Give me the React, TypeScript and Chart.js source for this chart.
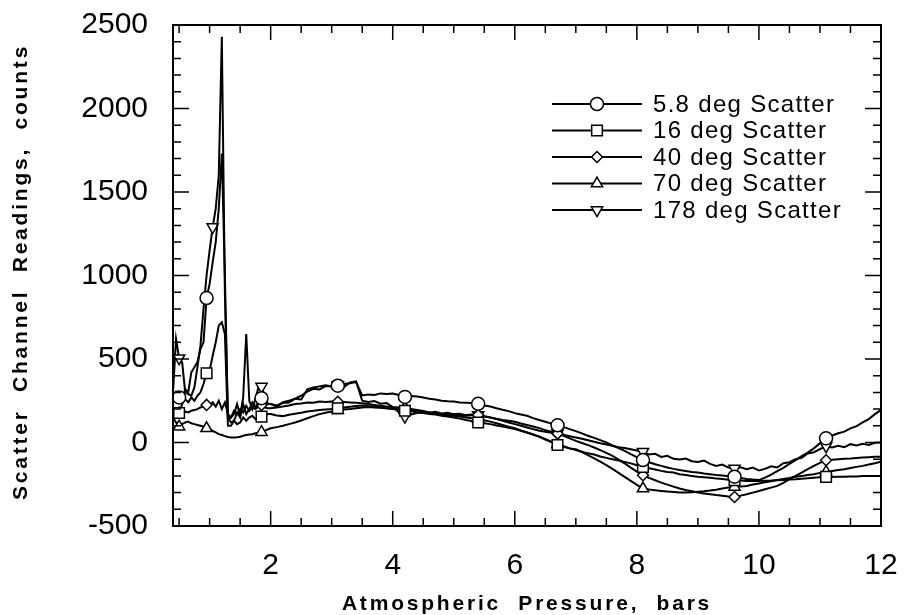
import { useEffect, useRef } from 'react';
import { Chart, registerables } from 'chart.js';

Chart.register(...registerables);

const FONT = '"Liberation Sans", Arial, Helvetica, sans-serif';

// Pressure samples (bars)
const pressureLow = [0.40, 0.45, 0.50, 0.55, 0.60, 0.65, 0.70, 0.75, 0.80, 0.85, 0.90, 0.95, 1.00, 1.05, 1.10, 1.15, 1.20, 1.25, 1.30, 1.35, 1.40, 1.45, 1.50, 1.55, 1.60, 1.65, 1.70, 1.75, 1.80, 1.85, 1.90, 1.95];
const pressureHigh = [
  2.0, 2.1, 2.2, 2.3, 2.4, 2.5, 2.6, 2.7, 2.8, 2.9,
  3.0, 3.1, 3.2, 3.3, 3.4, 3.5, 3.6, 3.7, 3.8, 3.9,
  4.0, 4.1, 4.2, 4.3, 4.4, 4.5, 4.6, 4.7, 4.8, 4.9,
  5.0, 5.1, 5.2, 5.3, 5.4, 5.5, 5.6, 5.7, 5.8, 5.9,
  6.0, 6.1, 6.2, 6.3, 6.4, 6.5, 6.6, 6.7, 6.8, 6.9,
  7.0, 7.1, 7.2, 7.3, 7.4, 7.5, 7.6, 7.7, 7.8, 7.9,
  8.0, 8.1, 8.2, 8.3, 8.4, 8.5, 8.6, 8.7, 8.8, 8.9,
  9.0, 9.1, 9.2, 9.3, 9.4, 9.5, 9.6, 9.7, 9.8, 9.9,
  10.0, 10.1, 10.2, 10.3, 10.4, 10.5, 10.6, 10.7, 10.8, 10.9,
  11.0, 11.1, 11.2, 11.3, 11.4, 11.5, 11.6, 11.7, 11.8, 11.9, 12.0,
];

// 5.8 deg Scatter
const scatter58Low = [240, 300, 270, 260, 320, 300, 420, 450, 480, 560, 600, 865, 950, 1080, 1200, 1400, 1730, 1000, 150, 120, 130, 180, 150, 230, 170, 200, 240, 210, 230, 265, 250, 235];
const scatter58High = [
  230, 222, 236, 240, 262, 280, 305, 322, 318, 338,
  336, 340, 350, 355, 362, 282, 288, 285, 294, 290,
  293, 285, 273, 278, 275, 270, 262, 258, 250, 247,
  245, 240, 238, 236, 232, 222, 215, 205, 196, 188,
  176, 168, 160, 146, 135, 124, 113, 103, 92, 80,
  68, 55, 40, 28, 14, 0, -18, -34, -50, -70,
  -88, -105, -118, -130, -140, -150, -158, -165, -170, -176,
  -180, -186, -190, -195, -198, -202, -205, -212, -218, -222,
  -225, -210, -192, -172, -152, -128, -105, -82, -60, -35,
  -5, 25, 42, 55, 65, 85, 98, 120, 140, 170, 195,
];

// 16 deg Scatter
const scatter16Low = [150, 190, 177, 230, 260, 240, 270, 250, 280, 300, 350, 415, 430, 520, 600, 700, 720, 650, 100, 100, 130, 110, 120, 150, 130, 150, 160, 140, 150, 155, 160, 170];
const scatter16High = [
  170, 162, 158, 166, 172, 178, 186, 190, 195, 198,
  200, 205, 210, 214, 218, 222, 218, 215, 210, 205,
  200, 196, 190, 188, 180, 176, 170, 168, 160, 155,
  150, 143, 135, 128, 120, 115, 110, 102, 95, 88,
  80, 70, 60, 48, 35, 18, 2, -15, -25, -35,
  -45, -55, -65, -72, -84, -92, -100, -108, -116, -125,
  -136, -146, -154, -162, -170, -177, -180, -190, -195, -200,
  -205, -208, -211, -215, -219, -223, -226, -228, -230, -231,
  -230, -229, -228, -226, -224, -222, -220, -217, -214, -211,
  -208, -206, -206, -205, -205, -204, -203, -201, -201, -200, -200,
];

// 40 deg Scatter
const scatter40Low = [160, 170, 180, 175, 185, 180, 190, 195, 200, 210, 215, 225, 220, 240, 215, 250, 200, 240, 170, 150, 190, 170, 200, 180, 220, 190, 210, 200, 215, 225, 210, 205];
const scatter40High = [
  205, 210, 215, 222, 230, 234, 240, 238, 245, 243,
  246, 244, 242, 240, 238, 235, 230, 225, 220, 215,
  212, 210, 205, 200, 195, 188, 180, 172, 165, 162,
  165, 162, 160, 163, 165, 158, 150, 140, 130, 120,
  110, 100, 90, 80, 70, 64, 58, 53, 40, 25,
  10, -3, -16, -30, -46, -62, -80, -102, -125, -150,
  -174, -196, -212, -226, -240, -252, -264, -275, -284, -292,
  -300, -305, -310, -315, -319, -323, -326, -318, -310, -300,
  -290, -280, -270, -260, -242, -220, -200, -180, -160, -140,
  -122, -106, -104, -100, -98, -96, -93, -90, -88, -86, -85,
];

// 70 deg Scatter
const scatter70Low = [150, 120, 95, 110, 120, 125, 115, 110, 105, 100, 95, 85, 80, 70, 60, 50, 45, 38, 33, 30, 30, 32, 35, 40, 45, 48, 50, 55, 58, 62, 70, 78];
const scatter70High = [
  85, 92, 100, 110, 120, 132, 145, 158, 170, 178,
  185, 193, 197, 200, 205, 210, 212, 210, 208, 205,
  203, 200, 195, 193, 190, 186, 180, 175, 170, 165,
  160, 155, 150, 145, 140, 133, 125, 115, 105, 95,
  85, 72, 60, 48, 35, 20, 5, -10, -22, -36,
  -40, -58, -76, -95, -115, -135, -158, -182, -206, -230,
  -254, -276, -282, -286, -290, -294, -297, -300, -300, -298,
  -295, -292, -288, -283, -276, -270, -266, -263, -260, -252,
  -245, -238, -232, -225, -218, -212, -205, -200, -195, -190,
  -182, -176, -170, -165, -160, -153, -146, -140, -132, -124, -115,
];

// 178 deg Scatter
const scatter178Low = [300, 620, 505, 480, 300, 290, 280, 330, 450, 580, 800, 1000, 1150, 1290, 1400, 1600, 2430, 900, 140, 150, 170, 230, 160, 270, 650, 250, 200, 260, 330, 335, 280, 230];
const scatter178High = [
  230, 215, 242, 250, 262, 258, 318, 330, 336, 342,
  335, 345, 332, 360, 366, 250, 242, 248, 232, 236,
  212, 182, 155, 168, 176, 182, 178, 184, 174, 178,
  170, 172, 164, 168, 165, 156, 150, 142, 135, 130,
  124, 114, 105, 96, 86, 74, 64, 55, 46, 38,
  30, 22, 14, 5, -4, -12, -20, -28, -33, -40,
  -48, -56, -72, -68, -86, -80, -98, -102, -96, -112,
  -116, -108, -128, -140, -132, -150, -156, -148, -160, -150,
  -168, -158, -142, -150, -124, -118, -100, -92, -66, -58,
  -40, -22, -30, -20, -28, -10, -18, -8, -15, -2, 0,
];

// Marker locations (bars)
const markers58 = [0.50, 0.95, 1.85, 3.1, 4.2, 5.4, 6.7, 8.1, 9.6, 11.1];
const markers16 = [0.50, 0.95, 1.85, 3.1, 4.2, 5.4, 6.7, 8.1, 9.6, 11.1];
const markers40 = [0.50, 0.95, 1.85, 3.1, 4.2, 5.4, 6.7, 8.1, 9.6, 11.1];
const markers70 = [0.50, 0.95, 1.85, 3.1, 4.2, 5.4, 6.7, 8.1, 9.6, 11.1];
const markers178 = [0.50, 1.05, 1.85, 3.1, 4.2, 5.4, 6.7, 8.1, 9.6, 11.1];

const seriesLabels = ['5.8 deg Scatter', '16 deg Scatter', '40 deg Scatter', '70 deg Scatter', '178 deg Scatter'];
const xTickValues = [2, 4, 6, 8, 10, 12];
const yTickValues = [-500, 0, 500, 1000, 1500, 2000, 2500];
const xTitle = 'Atmospheric  Pressure,  bars';
const yTitle = 'Scatter  Channel  Readings,  counts';

const pressure = [...pressureLow, ...pressureHigh];

type Shape = 'circle' | 'rect' | 'rectRot' | 'triangle' | 'triangleDown';

const seriesDefs: { label: string; values: number[]; markers: number[]; shape: Shape; r: number }[] = [
  { label: seriesLabels[0], values: [...scatter58Low, ...scatter58High], markers: markers58, shape: 'circle', r: 6.5 },
  { label: seriesLabels[1], values: [...scatter16Low, ...scatter16High], markers: markers16, shape: 'rect', r: 7.5 },
  { label: seriesLabels[2], values: [...scatter40Low, ...scatter40High], markers: markers40, shape: 'rectRot', r: 5.5 },
  { label: seriesLabels[3], values: [...scatter70Low, ...scatter70High], markers: markers70, shape: 'triangle', r: 6.5 },
  { label: seriesLabels[4], values: [...scatter178Low, ...scatter178High], markers: markers178, shape: 'triangleDown', r: 6.5 },
];

function drawMarker(ctx: CanvasRenderingContext2D, shape: Shape, x: number, y: number, r: number) {
  ctx.beginPath();
  if (shape === 'circle') {
    ctx.arc(x, y, r, 0, Math.PI * 2);
  } else if (shape === 'rect') {
    const s = r * Math.SQRT1_2;
    ctx.rect(x - s, y - s, 2 * s, 2 * s);
  } else if (shape === 'rectRot') {
    ctx.moveTo(x, y - r);
    ctx.lineTo(x + r, y);
    ctx.lineTo(x, y + r);
    ctx.lineTo(x - r, y);
    ctx.closePath();
  } else {
    const d = shape === 'triangle' ? 1 : -1;
    const sx = r * Math.sin((2 * Math.PI) / 3);
    const cy = r * 0.5;
    ctx.moveTo(x, y - d * r);
    ctx.lineTo(x + sx, y + d * cy);
    ctx.lineTo(x - sx, y + d * cy);
    ctx.closePath();
  }
  ctx.fillStyle = '#fff';
  ctx.fill();
  ctx.stroke();
}

const decorPlugin = {
  id: 'decor',
  afterDraw(chart: any) {
    const { ctx, chartArea: a, scales } = chart;
    const xs = scales.x;
    const ys = scales.y;
    ctx.save();
    ctx.strokeStyle = '#000';
    ctx.lineCap = 'butt';
    // tick marks, inward on all four sides
    ctx.lineWidth = 1.5;
    ctx.beginPath();
    for (let k = 1; k <= 24; k++) {
      const v = k * 0.5;
      const px = xs.getPixelForValue(v);
      const len = k % 4 === 0 ? 15 : 8;
      ctx.moveTo(px, a.bottom);
      ctx.lineTo(px, a.bottom - len);
      ctx.moveTo(px, a.top);
      ctx.lineTo(px, a.top + len);
    }
    for (let k = -4; k <= 24; k++) {
      const v = k * 100;
      const py = ys.getPixelForValue(v);
      const len = k % 5 === 0 ? 16 : 8;
      ctx.moveTo(a.left, py);
      ctx.lineTo(a.left + len, py);
      ctx.moveTo(a.right, py);
      ctx.lineTo(a.right - len, py);
    }
    ctx.stroke();
    // frame
    ctx.lineWidth = 2;
    ctx.strokeRect(a.left, a.top, a.right - a.left, a.bottom - a.top);

    // legend
    const rowY = [104, 130.5, 157, 183.5, 210];
    ctx.font = `24px ${FONT}`;
    (ctx as any).letterSpacing = '1.3px';
    ctx.textBaseline = 'middle';
    ctx.textAlign = 'left';
    seriesDefs.forEach((s, i) => {
      const y = rowY[i];
      ctx.lineWidth = 2;
      ctx.beginPath();
      ctx.moveTo(552, y);
      ctx.lineTo(642, y);
      ctx.stroke();
      ctx.lineWidth = 1.5;
      drawMarker(ctx, s.shape, 597, y, s.r);
      ctx.fillStyle = '#000';
      ctx.fillText(s.label, 653, y + 1);
    });

    // axis titles
    ctx.fillStyle = '#000';
    ctx.font = `bold 21px ${FONT}`;
    (ctx as any).letterSpacing = '2.8px';
    ctx.textBaseline = 'alphabetic';
    ctx.textAlign = 'center';
    ctx.fillText(xTitle, (a.left + a.right) / 2, 610);
    ctx.save();
    ctx.translate(27, 272);
    ctx.rotate(-Math.PI / 2);
    ctx.fillText(yTitle, 0, 0);
    ctx.restore();
    (ctx as any).letterSpacing = '0px';
    ctx.restore();
  },
};

export default function App() {
  const ref = useRef<HTMLCanvasElement>(null);
  useEffect(() => {
    const datasets = seriesDefs.map((s) => ({
      label: s.label,
      data: pressure.map((x, i) => ({ x, y: s.values[i] })),
      borderColor: '#000',
      borderWidth: 2,
      backgroundColor: '#fff',
      pointStyle: s.shape === 'triangleDown' ? 'triangle' : s.shape,
      pointRotation: s.shape === 'triangleDown' ? 180 : 0,
      pointBorderColor: '#000',
      pointBackgroundColor: '#fff',
      pointBorderWidth: 1.5,
      pointRadius: pressure.map((x) => (s.markers.some((m) => Math.abs(m - x) < 1e-6) ? s.r : 0)),
      pointHoverRadius: 0,
      pointHitRadius: 0,
      tension: 0,
      fill: false,
    }));
    const chart = new Chart(ref.current as HTMLCanvasElement, {
      type: 'line',
      data: { datasets: datasets as any },
      options: {
        responsive: false,
        animation: false,
        events: [],
        layout: { padding: { left: 0, top: 25, right: 23, bottom: 0 } },
        plugins: { legend: { display: false }, tooltip: { enabled: false } },
        scales: {
          x: {
            type: 'linear',
            min: 0.4,
            max: 12,
            grid: { display: false, drawTicks: false },
            border: { display: false },
            afterBuildTicks: (scale: any) => {
              scale.ticks = xTickValues.map((value) => ({ value }));
            },
            afterFit: (scale: any) => {
              scale.height = 89;
              scale.paddingLeft = 0;
              scale.paddingRight = 0;
            },
            ticks: {
              color: '#000',
              padding: 22,
              maxRotation: 0,
              autoSkip: false,
              font: { family: FONT, size: 30 },
              callback: (v: any) => `${v}`,
            },
          },
          y: {
            type: 'linear',
            min: -500,
            max: 2500,
            grid: { display: false, drawTicks: false },
            border: { display: false },
            afterBuildTicks: (scale: any) => {
              scale.ticks = yTickValues.map((value) => ({ value }));
            },
            afterFit: (scale: any) => {
              scale.width = 173;
              scale.paddingTop = 0;
              scale.paddingBottom = 0;
            },
            ticks: {
              color: '#000',
              padding: 25,
              autoSkip: false,
              font: { family: FONT, size: 30 },
              callback: (v: any) => `${v}`,
            },
          },
        },
      },
      plugins: [decorPlugin],
    });
    return () => chart.destroy();
  }, []);
  return (
    <div style={{ position: 'absolute', left: 0, top: 0, width: 904, height: 615, background: '#fff' }}>
      <canvas ref={ref} width={904} height={615} style={{ display: 'block' }} />
    </div>
  );
}
